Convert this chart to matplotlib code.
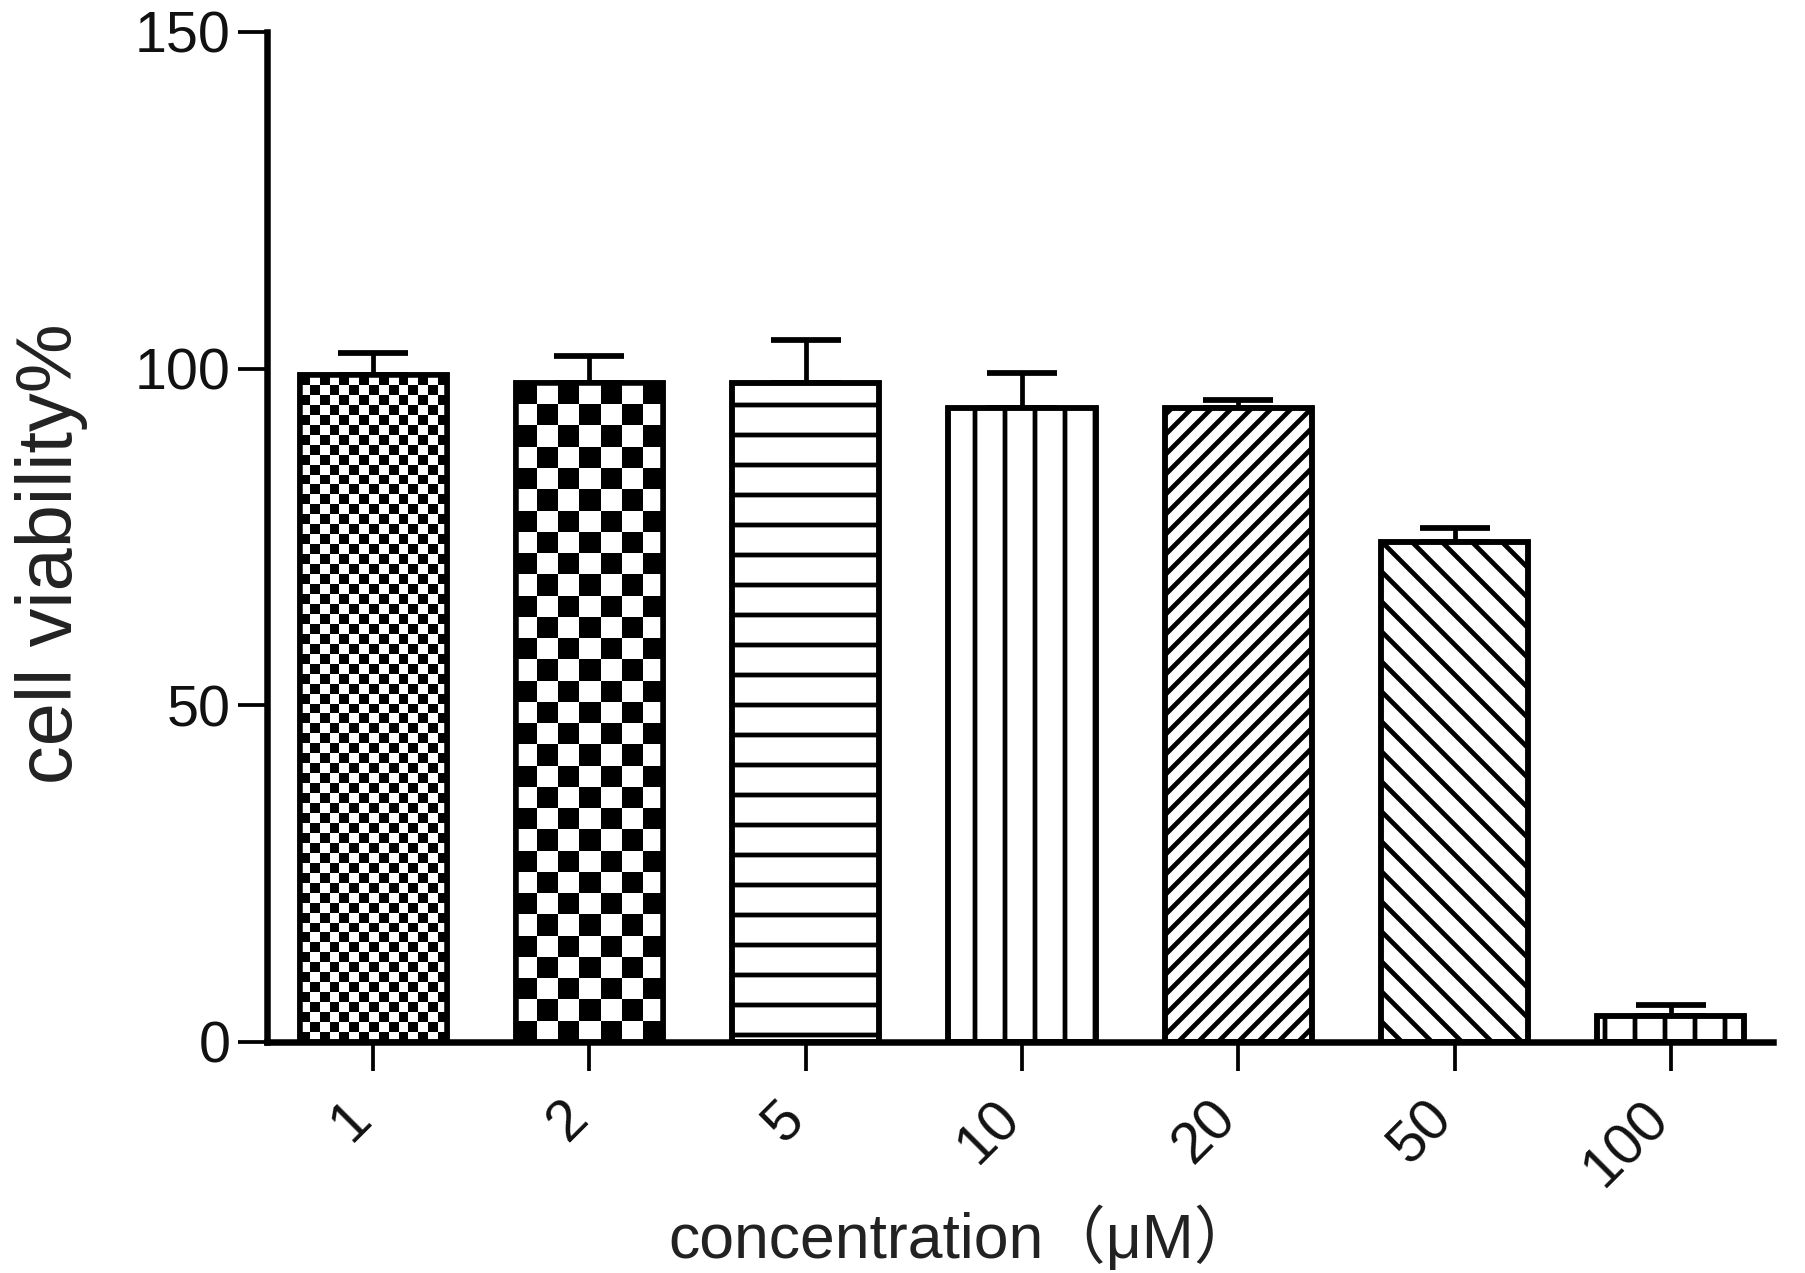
"""
    Cell viability vs concentration, patterned bar chart
"""

import numpy as np
import matplotlib
matplotlib.use("Agg")
from matplotlib import pyplot as plt

# Data
concentrations = ["1", "2", "5", "10", "20", "50", "100"]
viability = [99.0, 97.8, 97.8, 94.1, 94.1, 74.2, 3.8]
sd = [3.3, 4.0, 6.5, 5.3, 1.2, 2.1, 1.7]

# Fill style per bar: hatch string or checker cell size in px
hatches = [None, None, "-", "|", "///", "\\\\", "|"]
checker_px = [10, 21, None, None, None, None, None]

DPI = 180
plt.rcParams["font.family"] = ["Liberation Sans", "Noto Sans CJK SC"]
plt.rcParams["hatch.linewidth"] = 1.9

fig = plt.figure(figsize=(1805 / DPI, 1273 / DPI), dpi=DPI)
ax = fig.add_axes([0.148, 0.1815, 0.834, 0.7935])

x = np.arange(len(concentrations))
xlim = (-0.49, 6.47)
ylim = (0, 150)
ax.set_xlim(*xlim)
ax.set_ylim(*ylim)

# error bars (upper only) under the bars
ax.errorbar(x, viability, yerr=[np.zeros(len(sd)), sd], fmt="none", ecolor="k",
            elinewidth=1.9, capsize=14, capthick=2.3, zorder=1)

bars = ax.bar(x, viability, width=0.68, color="white", edgecolor="k",
              linewidth=2.2, zorder=2)

for bar, h in zip(bars, hatches):
    if h:
        bar.set_hatch(h)


def checker(ax, bar, cell_px):
    """
        Checkerboard texture clipped to a bar
    """
    x0, y0 = bar.get_x(), bar.get_y()
    w, h = bar.get_width(), bar.get_height()
    (px0, py0), (px1, py1) = ax.transData.transform([(x0, y0), (x0 + w, y0 + h)])
    nx = max(1, int(round((px1 - px0) / cell_px)))
    ny = max(1, int(round((py1 - py0) / cell_px)))
    grid = np.add.outer(np.arange(ny), np.arange(nx)) % 2
    im = ax.imshow(grid, cmap="gray", extent=(x0, x0 + w, y0, y0 + h), origin="upper",
                   interpolation="nearest", aspect="auto", zorder=2.5)
    im.set_clip_path(bar)


for bar, c in zip(bars, checker_px):
    if c:
        checker(ax, bar, c)

# outline on top of textures
ax.bar(x, viability, width=0.68, fill=False, edgecolor="k", linewidth=2.2, zorder=3)

ax.set_xlim(*xlim)
ax.set_ylim(*ylim)

# axes styling
ax.spines["top"].set_visible(False)
ax.spines["right"].set_visible(False)
ax.spines["left"].set_linewidth(2.6)
ax.spines["bottom"].set_linewidth(2.6)
ax.spines["left"].set_bounds(0, 150)

ax.set_yticks([0, 50, 100, 150])
ax.set_xticks(x)
ax.set_xticklabels(concentrations, rotation=45, ha="right", va="baseline",
                   rotation_mode="anchor")
ax.tick_params(axis="both", direction="out", length=11.5, width=1.5,
               labelsize=23, pad=3, labelcolor="#111111")
ax.tick_params(axis="x", pad=20)

ax.set_ylabel("cell viability%", fontsize=31, color="#222222")
ax.yaxis.set_label_coords(-0.143, 0.483)
ax.set_xlabel("concentration（μM）", fontsize=25, color="#222222")
ax.xaxis.set_label_coords(0.462, -0.194)
ax.xaxis.label.set_va("center")
ax.yaxis.label.set_va("center")

fig.savefig("out.png", dpi=DPI)
